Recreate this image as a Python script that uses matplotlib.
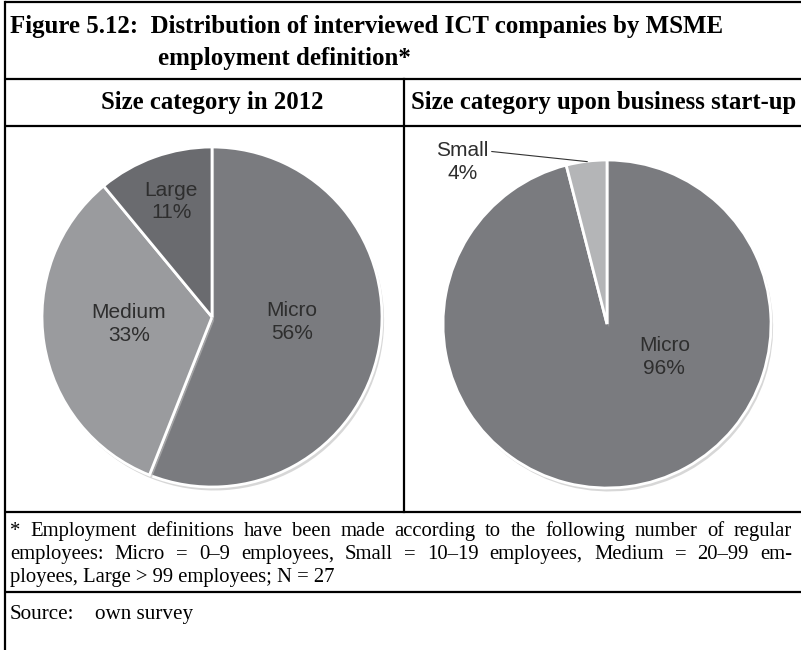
import matplotlib
matplotlib.use("Agg")

import matplotlib.pyplot as plt
import matplotlib.patheffects as pe

# ---------------------------------------------------------
# data
# ---------------------------------------------------------
title_l1 = "Figure 5.12:  Distribution of interviewed ICT companies by MSME"
title_l2 = "employment definition*"
panel_titles = ["Size category in 2012", "Size category upon business start-up"]

cats_2012 = ["Micro", "Medium", "Large"]
share_2012 = [56, 33, 11]

cats_start = ["Micro", "Small"]
share_start = [96, 4]

note_lines = [
    "* Employment definitions have been made according to the following number of regular",
    "employees: Micro = 0\u20139 employees, Small = 10\u201319 employees, Medium = 20\u201399 em-",
    "ployees, Large > 99 employees; N = 27",
]
source_label = "Source:"
source_text = "own survey"

colors = {"Micro": "#7a7b7f", "Medium": "#9a9b9e", "Large": "#6a6b6f", "Small": "#b4b5b7"}

# ---------------------------------------------------------
# figure + frame (pixel coords, y from top)
# ---------------------------------------------------------
W, H = 801, 650
fig = plt.figure(figsize=(W / 100, H / 100), dpi=100)
fig.patch.set_facecolor("white")

bg = fig.add_axes([0, 0, 1, 1])
bg.set_xlim(0, W)
bg.set_ylim(H, 0)
bg.axis("off")

serif = ["Liberation Serif", "DejaVu Serif"]
sans = ["Liberation Sans", "DejaVu Sans"]
lw = 1.6
X0, X1 = 5, 801
for y in (2, 79, 126, 512, 592):
    bg.plot([X0, X1], [y, y], color="black", lw=lw, solid_capstyle="butt")
bg.plot([X0, X0], [2, H], color="black", lw=lw)
bg.plot([404, 404], [79, 512], color="black", lw=lw)

bg.text(10, 26, title_l1, family=serif, fontweight="bold", fontsize=17.9, va="center", ha="left")
bg.text(158, 58, title_l2, family=serif, fontweight="bold", fontsize=17.9, va="center", ha="left")

bg.text(212, 103, panel_titles[0], family=serif, fontweight="bold", fontsize=17.8, va="center", ha="center")
bg.text(604, 103, panel_titles[1], family=serif, fontweight="bold", fontsize=17.8, va="center", ha="center")

renderer = fig.canvas.get_renderer()


def justified(y, line, x_left, x_right, **kw):
    words = line.split(" ")
    arts = [bg.text(0, y, w, ha="left", va="baseline", **kw) for w in words]
    widths = [a.get_window_extent(renderer).width for a in arts]
    gap = (x_right - x_left - sum(widths)) / (len(words) - 1)
    x = x_left
    for a, w in zip(arts, widths):
        a.set_x(x)
        x += w + gap


note_kw = dict(family=serif, fontsize=14.9)
note_base = [536, 559, 582]
for i, line in enumerate(note_lines):
    if i < 2:
        justified(note_base[i], line, 10, 792, **note_kw)
    else:
        bg.text(10, note_base[i], line, ha="left", va="baseline", **note_kw)
bg.text(10, 619, source_label, family=serif, fontsize=15.2, va="baseline", ha="left")
bg.text(95, 619, source_text, family=serif, fontsize=15.2, va="baseline", ha="left")


def pie_axes(box, center, r):
    x0, y0, w, h = box
    cx, cy = center
    ax = fig.add_axes([x0 / W, 1 - (y0 + h) / H, w / W, h / H])
    lims = ((x0 - cx) / r, (x0 + w - cx) / r), ((cy - (y0 + h)) / r, (cy - y0) / r)
    return ax, lims


def fix_axes(ax, lims):
    ax.set_aspect("auto")
    ax.set_xlim(*lims[0])
    ax.set_ylim(*lims[1])
    ax.axis("off")


shadow = [pe.SimplePatchShadow(offset=(1.5, -2.5), shadow_rgbFace="#bdbdbd", alpha=0.6), pe.Normal()]
txt_kw = dict(family=sans, fontsize=15, color="#2e2e2e", ha="center", va="center", linespacing=1.25)

# left pie: 2012
axL, limL = pie_axes((10, 130, 390, 378), (212, 317), 170)
wedges, _ = axL.pie(share_2012, startangle=90, counterclock=False, radius=1,
                    colors=[colors[c] for c in cats_2012],
                    wedgeprops=dict(edgecolor="white", linewidth=2))
fix_axes(axL, limL)
for w in wedges:
    w.set_path_effects(shadow)
label_pos_L = {"Micro": (0.47, -0.03), "Medium": (-0.49, -0.04), "Large": (-0.24, 0.68)}
for c, v in zip(cats_2012, share_2012):
    axL.text(*label_pos_L[c], f"{c}\n{v}%", **txt_kw)

# right pie: business start-up
axR, limR = pie_axes((408, 130, 390, 378), (607, 324), 164)
wedges, _ = axR.pie(share_start, startangle=90, counterclock=False, radius=1,
                    colors=[colors[c] for c in cats_start],
                    wedgeprops=dict(edgecolor="white", linewidth=2))
fix_axes(axR, limR)
for w in wedges:
    w.set_path_effects(shadow)
axR.text(0.35, -0.20, f"{cats_start[0]}\n{share_start[0]}%", **txt_kw)
axR.annotate(f"{cats_start[1]}\n{share_start[1]}%", xy=(-0.12, 0.99), xytext=(-0.88, 0.99),
             arrowprops=dict(arrowstyle="-", color="#333333", lw=0.8, shrinkA=0, shrinkB=0,
                             relpos=(1.0, 0.75)),
             **txt_kw)

fig.savefig("out.png", dpi=100, facecolor="white")
